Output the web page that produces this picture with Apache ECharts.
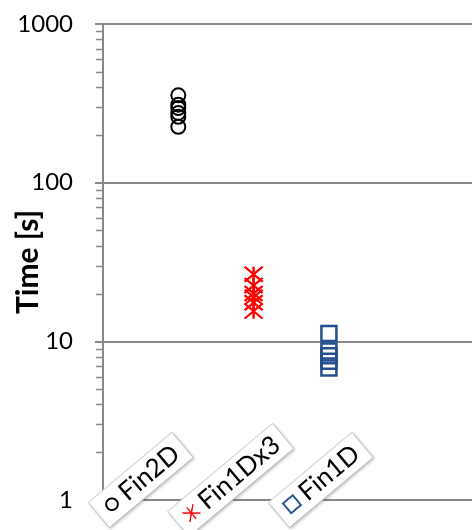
<!DOCTYPE html>
<html>
<head>
<meta charset="utf-8">
<title>Time [s]</title>
<script src="https://cdn.jsdelivr.net/npm/echarts@6/dist/echarts.min.js"></script>
<style>
  html, body { margin: 0; padding: 0; background: #fff; }
  #chart { width: 472px; height: 530px; }
</style>
</head>
<body>
<div id="chart"></div>
<script>
// Solver variants, placed at x = 1, 2, 3
const categories = ['Fin2D', 'Fin1Dx3', 'Fin1D'];
const categoryPositions = [1, 2, 3];

// Run times in seconds for each variant
const fin2dTimes   = [355, 310, 295, 275, 260, 225];
const fin1dx3Times = [26.5, 22.5, 20, 19, 17.5, 15.5];
const fin1dTimes   = [11.2, 8.7, 8.1, 7.5, 6.8];

// Log axis decades and the minor steps inside each decade
const decades = [1, 10, 100];
const minorSteps = [2, 3, 4, 5, 6, 7, 8, 9];

const GRAY = '#888888';
const RED = '#ff0000';
const BLUE = '#254f8c';
const FONT = 'Lato';

// Star marker: an X with a vertical bar through it
const STAR_PATH = 'path://M0 0L10 10M10 0L0 10M5 0L5 10';

// Small legend keys drawn on canvas, used as rich-text backgrounds in axis labels
function keyCanvas(kind) {
  const s = 32;
  const c = document.createElement('canvas');
  c.width = s; c.height = s;
  const g = c.getContext('2d');
  g.lineWidth = 3.5;
  if (kind === 'circle') {
    g.strokeStyle = '#000';
    g.beginPath(); g.arc(s / 2, s / 2, 11, 0, Math.PI * 2); g.stroke();
  } else if (kind === 'star') {
    g.strokeStyle = RED; g.lineWidth = 2.5;
    g.beginPath();
    g.moveTo(3, 5); g.lineTo(29, 27);
    g.moveTo(29, 5); g.lineTo(3, 27);
    g.moveTo(16, 2); g.lineTo(16, 30);
    g.stroke();
  } else {
    g.strokeStyle = BLUE;
    g.strokeRect(4, 4, 24, 24);
  }
  return c;
}
const keyKinds = ['circle', 'star', 'square'];

const rich = {
  t: { fontFamily: FONT, fontSize: 26, color: '#000', padding: [0, 0, 0, 5] }
};
keyKinds.forEach((k, i) => {
  rich['k' + i] = { width: 17, height: 17, backgroundColor: { image: keyCanvas(k) } };
});

const minorTicks = [];
decades.forEach(d => minorSteps.forEach(m => minorTicks.push([0, d * m])));

const toPoints = (idx, arr) => arr.map(v => [categoryPositions[idx], v]);

const axisLine = { show: true, lineStyle: { color: GRAY, width: 2 } };

const chart = echarts.init(document.getElementById('chart'), null, { renderer: 'canvas' });

chart.setOption({
  animation: false,
  backgroundColor: '#fff',
  grid: {
    left: 103, right: 0, top: 24, bottom: 30,
    containLabel: false,
    outerBoundsMode: 'none'
  },
  xAxis: [
    {
      // data axis
      type: 'value',
      min: 0,
      max: 4.9,
      z: 2,
      axisLine: axisLine,
      axisTick: { show: false },
      splitLine: { show: false },
      axisLabel: { show: false }
    },
    {
      // category name axis, its labels sit across the plot's bottom edge
      type: 'value',
      position: 'bottom',
      min: 0.58,
      max: 4.68,
      z: 5,
      axisLine: { show: false },
      axisTick: { show: false },
      splitLine: { show: false },
      axisLabel: {
        customValues: categoryPositions,
        rotate: 40,
        align: 'center',
        verticalAlign: 'middle',
        margin: -20,
        hideOverlap: false,
        backgroundColor: '#fff',
        borderColor: '#d6d6d6',
        borderWidth: 1,
        shadowColor: 'rgba(0,0,0,0.18)',
        shadowBlur: 3,
        shadowOffsetX: 1,
        shadowOffsetY: 1,
        padding: [3, 8, 3, 8],
        rich: rich,
        formatter: function (v) {
          const i = categoryPositions.indexOf(Math.round(v));
          if (i < 0) return '';
          return '{k' + i + '| }{t|' + categories[i] + '}';
        }
      }
    }
  ],
  yAxis: {
    type: 'log',
    logBase: 10,
    min: 1,
    max: 1000,
    name: 'Time [s]',
    nameLocation: 'middle',
    nameGap: 60,
    nameMoveOverlap: false,
    nameTextStyle: { fontFamily: FONT, fontSize: 30, fontWeight: 'bold', color: '#000' },
    axisLine: axisLine,
    axisTick: { show: true, length: 8, lineStyle: { color: GRAY, width: 2 } },
    minorTick: { show: false },
    splitLine: { show: true, lineStyle: { color: GRAY, width: 2 } },
    axisLabel: {
      fontFamily: FONT, fontSize: 24, color: '#000', margin: 30,
      formatter: function (v) { return String(Math.round(v)); }
    }
  },
  series: [
    {
      // minor ticks at 2..9 of each decade on the log axis
      type: 'custom',
      silent: true,
      clip: false,
      z: 10,
      data: minorTicks,
      renderItem: function (params, api) {
        const p = api.coord([0, api.value(1)]);
        const y = Math.round(p[1]) + 0.5;
        return {
          type: 'line',
          shape: { x1: p[0] - 7, y1: y, x2: p[0] - 1, y2: y },
          style: { stroke: GRAY, lineWidth: 1.5 }
        };
      }
    },
    {
      name: categories[0],
      type: 'scatter',
      data: toPoints(0, fin2dTimes),
      symbol: 'circle',
      symbolSize: 14,
      itemStyle: { color: 'transparent', borderColor: '#000', borderWidth: 2, opacity: 1 }
    },
    {
      name: categories[1],
      type: 'scatter',
      data: toPoints(1, fin1dx3Times),
      symbol: STAR_PATH,
      symbolSize: [18, 15],
      symbolKeepAspect: false,
      itemStyle: { color: 'transparent', borderColor: RED, borderWidth: 2.2, opacity: 1 }
    },
    {
      name: categories[2],
      type: 'scatter',
      data: toPoints(2, fin1dTimes),
      symbol: 'rect',
      symbolSize: 15,
      itemStyle: { color: 'transparent', borderColor: BLUE, borderWidth: 2.5, opacity: 1 }
    }
  ]
});
</script>
</body>
</html>
